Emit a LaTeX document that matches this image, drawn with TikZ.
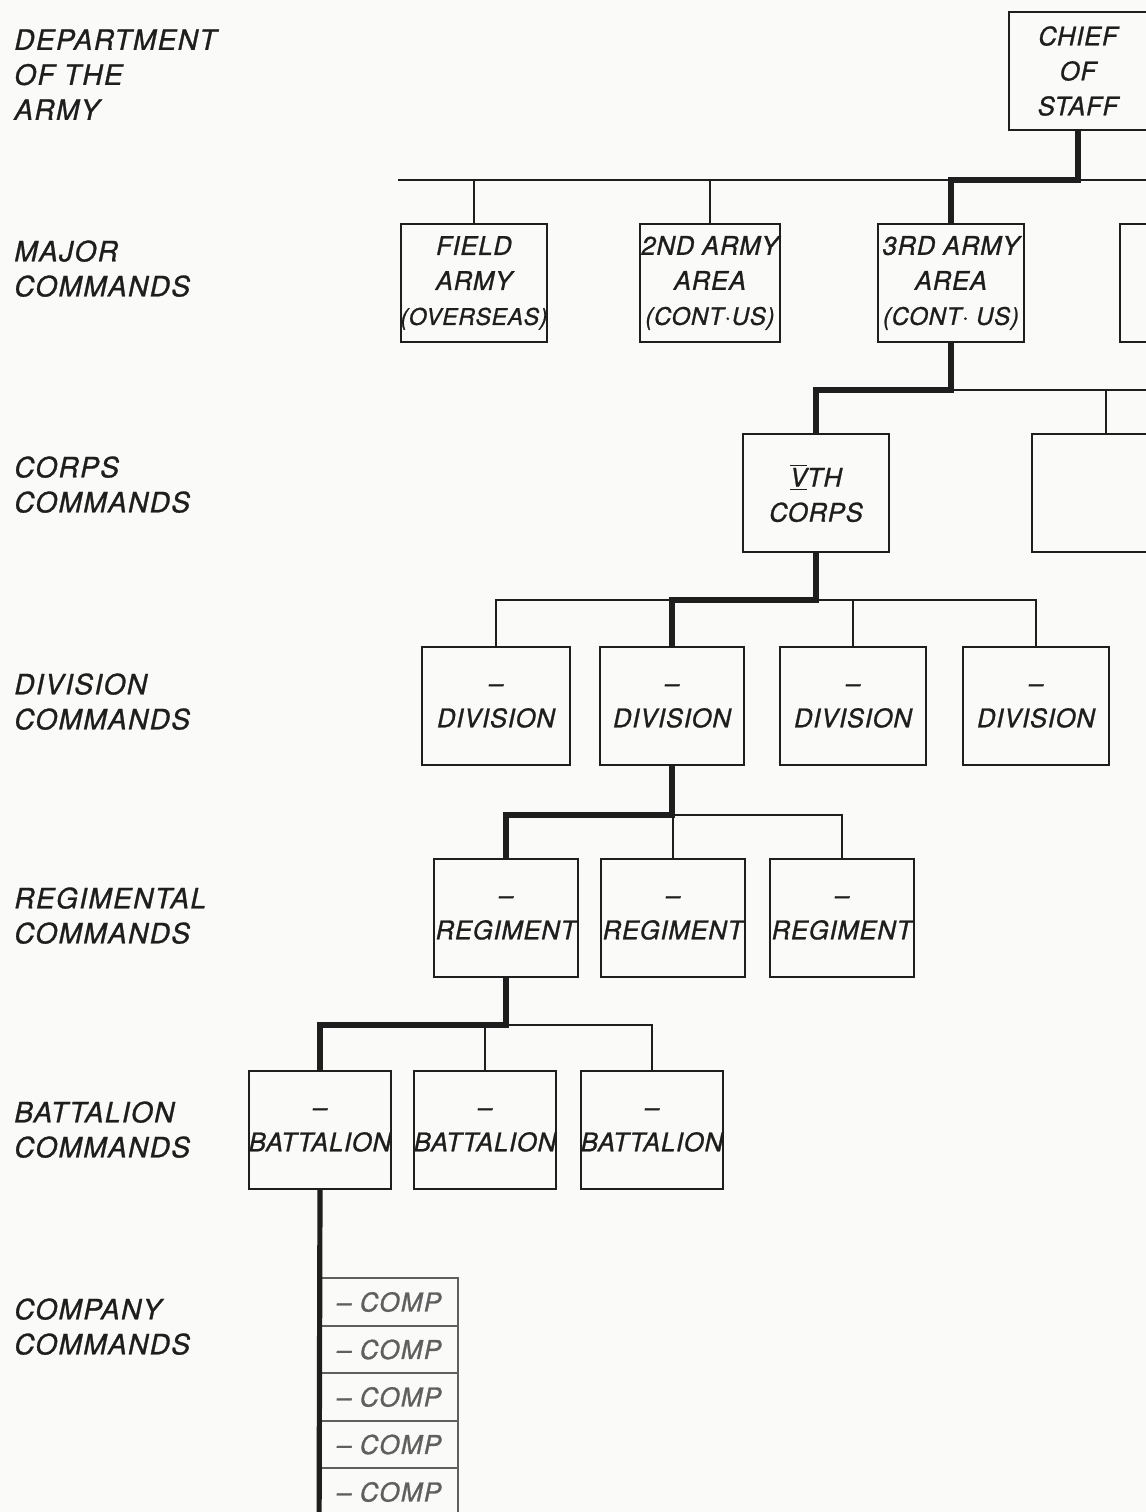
\documentclass[tikz,border=0pt]{standalone}
\usepackage{fontspec}
\newfontfamily\handfont{TeX Gyre Heros}[LetterSpace=5,FakeBold=1]
\newfontfamily\boxhand{TeX Gyre Heros}[LetterSpace=3,FakeBold=1]
\definecolor{paper}{RGB}{250,251,248}
\definecolor{ink}{RGB}{30,30,30}
\definecolor{pencil}{RGB}{95,95,95}
\newcommand\levelfont{\handfont\itshape\fontsize{14}{17.5}\selectfont}
\newcommand\boxfont{\boxhand\itshape\fontsize{12.8}{17.5}\selectfont}
\newcommand\compfont{\handfont\itshape\fontsize{13}{15}\selectfont}
\begin{document}
\begin{tikzpicture}[x=0.5pt,y=-0.5pt,color=ink,
		box/.style={draw,line width=1pt,inner sep=0pt,minimum width=72pt,minimum height=59pt,align=center,font=\boxfont},
		comp/.style={draw=pencil,line width=0.9pt,inner sep=0pt,minimum width=69pt,minimum height=23.75pt,font=\compfont,text=pencil},
		feed/.style={line width=0.9pt},
		cmdline/.style={line width=2.6pt},
		echelon/.style={anchor=north west,align=left,inner sep=0pt,font=\levelfont}]
	\useasboundingbox (0,0) rectangle (1146,1512);
	\fill[paper] (0,0) rectangle (1146,1512);
	% echelons
	\node[echelon] (ldept) at (14,29) {DEPARTMENT\\OF THE\\ARMY};
	\node[echelon] (lmajor) at (14,240) {MAJOR\\COMMANDS};
	\node[echelon] (lcorps) at (14,456) {CORPS\\COMMANDS};
	\node[echelon] (ldiv) at (14,673) {DIVISION\\COMMANDS};
	\node[echelon] (lreg) at (14,887) {REGIMENTAL\\COMMANDS};
	\node[echelon] (lbat) at (14,1101) {BATTALION\\COMMANDS};
	\node[echelon] (lcomp) at (14,1298) {COMPANY\\COMMANDS};
	% units
	\node[box,minimum width=69pt] (cos) at (1078,71) {CHIEF\\OF\\STAFF};
	\node[box,minimum width=73pt] (fa) at (474,283) {FIELD\\ARMY\\{\fontsize{11.5}{17.5}\selectfont(OVERSEAS)}};
	\node[box,minimum width=70pt] (a2) at (710,283) {2ND ARMY\\AREA\\{\fontsize{12}{17.5}\selectfont(CONT·US)}};
	\node[box,minimum width=73pt] (a3) at (951,283) {3RD ARMY\\AREA\\{\fontsize{12}{17.5}\selectfont(CONT· US)}};
	\node[box] (a4) at (1192,283) {};
	\node[box,minimum width=73pt] (c5) at (816,493) {\underline{$\overline{\hbox{V}}$}TH\\CORPS};
	\node[box,minimum width=74pt] (cx) at (1106,493) {};
	\node[box,minimum width=74pt] (d1) at (496,706) {\textendash\\DIVISION};
	\node[box] (d2) at (672,706) {\textendash\\DIVISION};
	\node[box,minimum width=73pt] (d3) at (853,706) {\textendash\\DIVISION};
	\node[box,minimum width=73pt] (d4) at (1036,706) {\textendash\\DIVISION};
	\node[box] (r1) at (506,918) {\textendash\\REGIMENT};
	\node[box] (r2) at (673,918) {\textendash\\REGIMENT};
	\node[box] (r3) at (842,918) {\textendash\\REGIMENT};
	\node[box,minimum width=71pt] (b1) at (320,1130) {\textendash\\BATTALION};
	\node[box,minimum width=71pt] (b2) at (485,1130) {\textendash\\BATTALION};
	\node[box,minimum width=71pt] (b3) at (652,1130) {\textendash\\BATTALION};
	\foreach \i in {0,...,4}
		\node[comp] (co\i) at (389,{1302+47.5*\i}) {\textendash\ COMP};
	% feeder bars
	\coordinate (bar1) at (398,180);
	\coordinate (bar2) at (1220,390);
	\coordinate (bar3) at (0,600);
	\coordinate (bar4) at (0,815);
	\coordinate (bar5) at (0,1025);
	\draw[feed] (bar1) -- (1220,180);
	\draw[feed] (fa.north) -- (fa.north |- bar1);
	\draw[feed] (a2.north) -- (a2.north |- bar1);
	\draw[feed] (a4.north) -- (a4.north |- bar1);
	\draw[feed] (a3.south |- bar2) -- (bar2);
	\draw[feed] (cx.north) -- (cx.north |- bar2);
	\draw[feed] (d1.north) -- (d1.north |- bar3) -- (d4.north |- bar3) -- (d4.north);
	\draw[feed] (d3.north) -- (d3.north |- bar3);
	\draw[feed] (r1.north |- bar4) -- (r3.north |- bar4) -- (r3.north);
	\draw[feed] (r2.north) -- (r2.north |- bar4);
	\draw[feed] (b1.north |- bar5) -- (b3.north |- bar5) -- (b3.north);
	\draw[feed] (b2.north) -- (b2.north |- bar5);
	% chain of command
	\draw[cmdline] (cos.south) |- (a3.north |- bar1) -- (a3.north);
	\draw[cmdline] (a3.south) |- (c5.north |- bar2) -- (c5.north);
	\draw[cmdline] (c5.south) |- (d2.north |- bar3) -- (d2.north);
	\draw[cmdline] (d2.south) |- (r1.north |- bar4) -- (r1.north);
	\draw[cmdline] (r1.south) |- (b1.north |- bar5) -- (b1.north);
	\draw[cmdline] (b1.south) -- (co4.south west);
\end{tikzpicture}
\end{document}
